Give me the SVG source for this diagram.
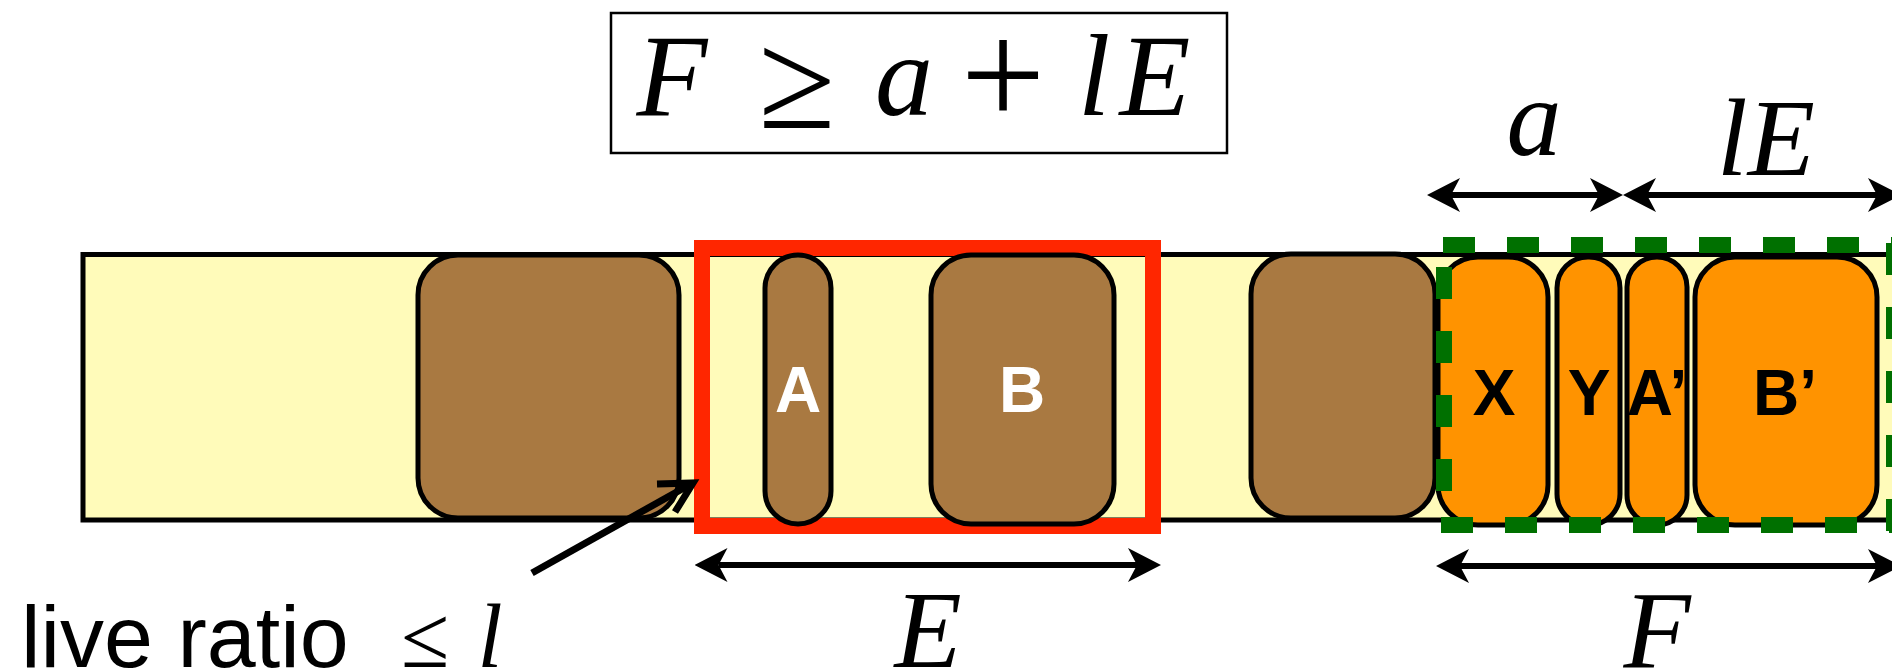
<svg xmlns="http://www.w3.org/2000/svg" width="1892" height="670" viewBox="0 0 1892 670">
<style>
.math{font-family:"Liberation Serif","Times New Roman",serif;font-style:italic;fill:#000}
.op{font-family:"Liberation Serif","Times New Roman",serif;fill:#000}
.blk{stroke:#000;stroke-width:5}
.brown{fill:#A97941}
.orange{fill:#FF9300}
.lbl{font-family:"Liberation Sans",Arial,sans-serif;font-weight:bold;font-size:64px;text-anchor:middle}
.dim{stroke:#000;stroke-width:6;fill:none}
.grn{stroke:#007000;stroke-width:16;stroke-dasharray:32 32;fill:none}
</style>
<defs>
<marker id="ah" viewBox="0 -17 33 34" refX="9" refY="0" markerWidth="33" markerHeight="34" markerUnits="userSpaceOnUse" orient="auto-start-reverse">
<path d="M33,0 L0,-17 L9,0 L0,17 Z" fill="#000"/>
</marker>
</defs>
<rect width="1892" height="670" fill="#fff"/>

<g id="formula">
<rect x="611" y="13" width="616" height="140" fill="#fff" stroke="#000" stroke-width="2.5"/>
<text class="math" x="672" y="115" font-size="116" text-anchor="middle">F</text>
<text class="op" x="797" y="128" font-size="140" text-anchor="middle">≥</text>
<text class="math" x="904" y="115" font-size="116" text-anchor="middle">a</text>
<text class="op" x="1003" y="125" font-size="150" text-anchor="middle">+</text>
<text class="math" x="1078" y="115" font-size="116">l</text>
<text class="math" x="1155" y="115" font-size="116" text-anchor="middle">E</text>
</g>

<g id="bar">
<rect x="83" y="254.5" width="1850" height="265.5" fill="#FFFBBA" stroke="#000" stroke-width="5"/>
</g>

<g id="region-E">
<rect x="702" y="248" width="451" height="278" fill="none" stroke="#FF2600" stroke-width="16"/>
</g>

<g id="block1"><rect class="blk brown" x="418" y="255" width="261" height="263" rx="40"/></g>
<g id="blockA"><rect class="blk brown" x="765" y="255" width="66" height="269" rx="33"/><text class="lbl" x="798" y="412" fill="#fff">A</text></g>
<g id="blockB"><rect class="blk brown" x="931" y="255" width="183" height="269" rx="40"/><text class="lbl" x="1022" y="412" fill="#fff">B</text></g>
<g id="block3"><rect class="blk brown" x="1251" y="254" width="184" height="264" rx="40"/></g>

<g id="blockX"><rect class="blk orange" x="1438" y="257" width="110" height="268" rx="40"/><text class="lbl" x="1494" y="415">X</text></g>
<g id="blockY"><rect class="blk orange" x="1557" y="257" width="63" height="268" rx="31"/><text class="lbl" x="1589" y="415">Y</text></g>
<g id="blockA2"><rect class="blk orange" x="1627" y="257" width="60" height="268" rx="30"/><text class="lbl" x="1657" y="415">A’</text></g>
<g id="blockB2"><rect class="blk orange" x="1695" y="257" width="182" height="268" rx="40"/><text class="lbl" x="1785" y="415">B’</text></g>

<g id="region-F">
<line class="grn" x1="1443" y1="245" x2="1900" y2="245"/>
<line class="grn" x1="1441" y1="525" x2="1900" y2="525"/>
<line class="grn" x1="1444" y1="267" x2="1444" y2="491"/>
<line class="grn" x1="1894" y1="243" x2="1894" y2="531"/>
</g>

<g id="connectors">
<line class="dim" x1="1451" y1="195" x2="1599" y2="195" marker-start="url(#ah)" marker-end="url(#ah)"/>
<line class="dim" x1="1647" y1="195" x2="1877" y2="195" marker-start="url(#ah)" marker-end="url(#ah)"/>
<line class="dim" x1="718.5" y1="565" x2="1137" y2="565" marker-start="url(#ah)" marker-end="url(#ah)"/>
<line class="dim" x1="1460" y1="566" x2="1877" y2="566" marker-start="url(#ah)" marker-end="url(#ah)"/>
<line x1="532" y1="573" x2="691" y2="484" stroke="#000" stroke-width="7"/>
<polyline points="657,484 693,483 675,512" fill="none" stroke="#000" stroke-width="7"/>
</g>

<g id="labels">
<text class="math" x="1534" y="155" font-size="110" text-anchor="middle">a</text>
<text class="math" x="1766" y="175" font-size="110" text-anchor="middle">lE</text>
<text class="math" x="928" y="667" font-size="110" text-anchor="middle">E</text>
<text class="math" x="1657" y="667" font-size="110" text-anchor="middle">F</text>
<text x="21" y="667" font-family="Liberation Sans, Arial, sans-serif" font-size="88">live ratio</text>
<text class="op" x="425" y="667" font-size="88" text-anchor="middle">≤</text>
<text class="math" x="490" y="667" font-size="90" text-anchor="middle">l</text>
</g>
</svg>
